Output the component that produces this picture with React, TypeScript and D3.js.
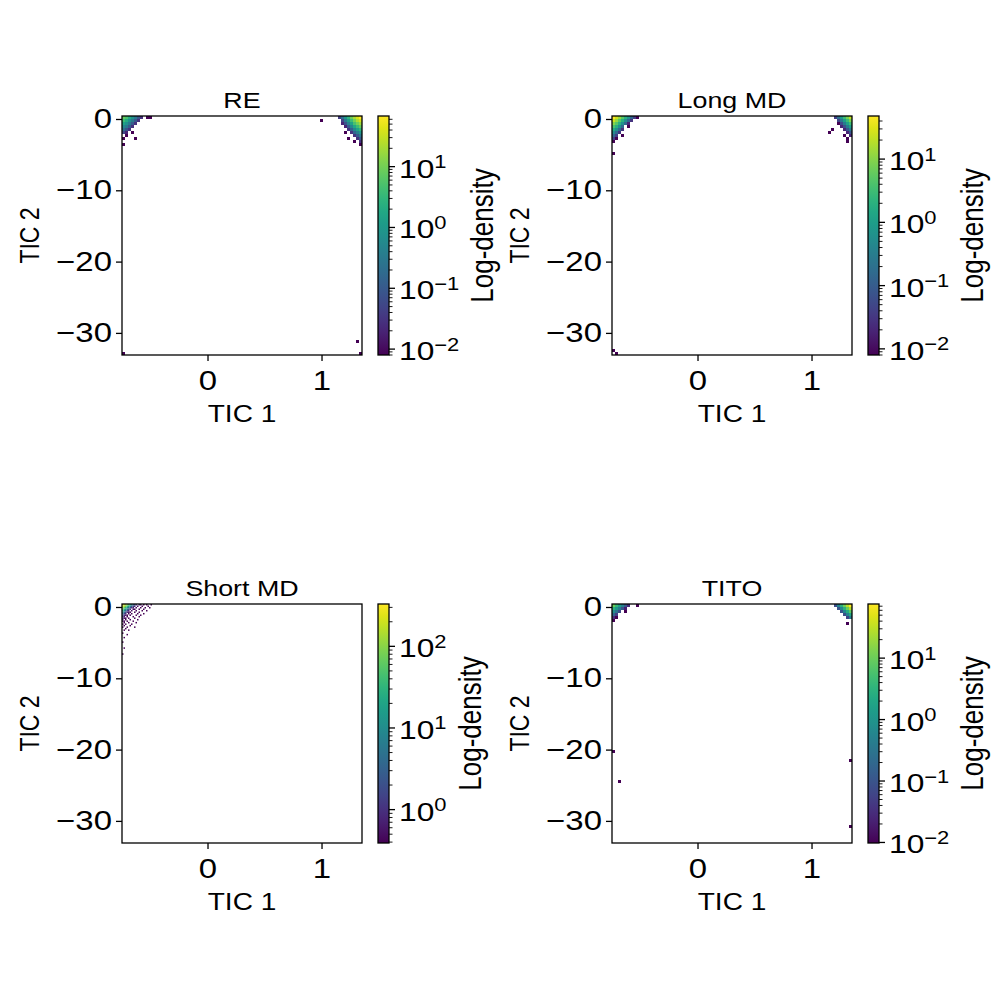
import React, { useEffect, useRef } from 'react';
import * as d3 from 'd3';

// axis ranges of every panel
const tic1Range = [-0.75, 1.355];
const tic2Range = [-33.1, 0.42];
const tic1Ticks = [0, 1];
const tic2Ticks = [0, -10, -20, -30];

// 2D histogram cells: [TIC 1 bin, TIC 2 bin (counted from the top), density]
const reCells = [
  [0, 0, 8], [1, 0, 5], [2, 0, 2], [3, 0, 0.8], [4, 0, 0.3], [5, 0, 0.08], [6, 0, 0.03], [8, 0, 0.008], [9, 0, 0.008],
  [0, 1, 4], [1, 1, 2], [2, 1, 0.8], [3, 1, 0.3], [4, 1, 0.1], [5, 1, 0.03],
  [0, 2, 1.5], [1, 2, 0.8], [2, 2, 0.3], [3, 2, 0.1], [4, 2, 0.03],
  [0, 3, 0.5], [1, 3, 0.3], [2, 3, 0.1], [3, 3, 0.03],
  [0, 4, 0.2], [1, 4, 0.08], [2, 4, 0.03],
  [0, 5, 0.06], [1, 5, 0.02], [3, 5, 0.008],
  [1, 6, 0.008], [0, 7, 0.008], [4, 7, 0.008], [0, 9, 0.008],
  [66, 1, 0.008],
  [72, 0, 0.04], [73, 0, 0.2], [74, 0, 0.9], [75, 0, 3], [76, 0, 9], [77, 0, 20], [78, 0, 40], [79, 0, 68],
  [73, 1, 0.05], [74, 1, 0.3], [75, 1, 1.2], [76, 1, 4], [77, 1, 10], [78, 1, 22], [79, 1, 38],
  [73, 2, 0.02], [74, 2, 0.08], [75, 2, 0.4], [76, 2, 1.5], [77, 2, 5], [78, 2, 10], [79, 2, 18],
  [74, 3, 0.02], [75, 3, 0.1], [76, 3, 0.5], [77, 3, 1.8], [78, 3, 4], [79, 3, 8],
  [75, 4, 0.03], [76, 4, 0.12], [77, 4, 0.5], [78, 4, 1.5], [79, 4, 3],
  [74, 5, 0.008], [76, 5, 0.03], [77, 5, 0.15], [78, 5, 0.4], [79, 5, 1],
  [77, 6, 0.03], [78, 6, 0.1], [79, 6, 0.3],
  [75, 7, 0.008], [78, 7, 0.03], [79, 7, 0.1],
  [77, 8, 0.008], [79, 8, 0.03], [79, 9, 0.008],
  [78, 75, 0.008], [79, 79, 0.008], [0, 79, 0.008],
];

const longMdCells = [
  [0, 0, 48], [1, 0, 25], [2, 0, 12], [3, 0, 5], [4, 0, 2], [5, 0, 0.6], [6, 0, 0.15], [7, 0, 0.04], [8, 0, 0.008],
  [0, 1, 25], [1, 1, 12], [2, 1, 5], [3, 1, 2], [4, 1, 0.6], [5, 1, 0.15], [6, 1, 0.03],
  [0, 2, 10], [1, 2, 5], [2, 2, 2], [3, 2, 0.6], [4, 2, 0.15], [5, 2, 0.02],
  [0, 3, 4], [1, 3, 2], [2, 3, 0.6], [3, 3, 0.15], [5, 3, 0.008],
  [0, 4, 1.5], [1, 4, 0.6], [2, 4, 0.15], [3, 4, 0.03],
  [0, 5, 0.5], [1, 5, 0.15], [2, 5, 0.03],
  [0, 6, 0.15], [1, 6, 0.04], [3, 6, 0.008],
  [0, 7, 0.04], [1, 7, 0.008], [0, 8, 0.008], [0, 12, 0.008],
  [0, 78, 0.008], [1, 79, 0.008],
  [74, 0, 0.04], [75, 0, 0.2], [76, 0, 0.8], [77, 0, 3], [78, 0, 8], [79, 0, 20],
  [75, 1, 0.05], [76, 1, 0.25], [77, 1, 1], [78, 1, 3], [79, 1, 8],
  [75, 2, 0.008], [76, 2, 0.06], [77, 2, 0.3], [78, 2, 1.2], [79, 2, 3],
  [76, 3, 0.02], [77, 3, 0.07], [78, 3, 0.3], [79, 3, 1],
  [73, 4, 0.008], [77, 4, 0.02], [78, 4, 0.08], [79, 4, 0.3],
  [72, 5, 0.008], [78, 5, 0.02], [79, 5, 0.08],
  [77, 6, 0.008], [79, 6, 0.02], [78, 7, 0.008], [78, 8, 0.008],
];

// this run was binned finer (160 bins per axis)
const shortMdCells = [
  [0, 0, 330], [1, 0, 220], [2, 0, 150], [3, 0, 90], [4, 0, 50], [5, 0, 25], [6, 0, 12], [7, 0, 5], [8, 0, 2.5], [9, 0, 1.2], [11, 0, 0.8], [12, 0, 0.5], [14, 0, 0.39], [16, 0, 0.39], [19, 0, 0.39],
  [0, 1, 200], [1, 1, 140], [2, 1, 80], [3, 1, 40], [4, 1, 18], [5, 1, 8], [6, 1, 3], [7, 1, 1.5], [8, 1, 0.8], [10, 1, 0.5], [13, 1, 0.39], [17, 1, 0.39],
  [0, 2, 110], [1, 2, 70], [2, 2, 35], [3, 2, 15], [4, 2, 6], [5, 2, 2.5], [6, 2, 1], [7, 2, 0.6], [9, 2, 0.5], [12, 2, 0.39], [15, 2, 0.39], [18, 2, 0.39],
  [0, 3, 60], [1, 3, 30], [2, 3, 12], [3, 3, 5], [4, 3, 2], [5, 3, 0.9], [7, 3, 0.5], [8, 3, 0.39], [11, 3, 0.39], [14, 3, 0.39],
  [0, 4, 25], [1, 4, 12], [2, 4, 5], [3, 4, 2], [4, 4, 0.8], [6, 4, 0.5], [9, 4, 0.39], [13, 4, 0.39], [16, 4, 0.39],
  [0, 5, 10], [1, 5, 5], [2, 5, 2], [3, 5, 0.8], [4, 5, 0.5], [5, 5, 0.39], [8, 5, 0.39], [11, 5, 0.39],
  [0, 6, 5], [1, 6, 2], [2, 6, 0.9], [4, 6, 0.39], [6, 6, 0.39], [10, 6, 0.39], [14, 6, 0.39],
  [0, 7, 2.5], [1, 7, 1], [2, 7, 0.5], [3, 7, 0.39], [5, 7, 0.39], [9, 7, 0.39], [12, 7, 0.39],
  [0, 8, 1.5], [1, 8, 0.6], [3, 8, 0.39], [7, 8, 0.39], [11, 8, 0.39],
  [0, 9, 1], [1, 9, 0.5], [2, 9, 0.39], [4, 9, 0.39], [8, 9, 0.39],
  [0, 10, 0.7], [2, 10, 0.39], [5, 10, 0.39], [10, 10, 0.39],
  [0, 11, 0.5], [1, 11, 0.39], [3, 11, 0.39], [7, 11, 0.39],
  [1, 12, 0.39], [4, 12, 0.39], [9, 12, 0.39],
  [0, 13, 0.39], [2, 13, 0.39], [6, 13, 0.39],
  [1, 14, 0.39], [5, 14, 0.39], [0, 15, 0.39], [3, 15, 0.39], [8, 15, 0.39],
  [2, 16, 0.39], [1, 17, 0.39], [4, 17, 0.39], [0, 19, 0.39], [3, 20, 0.39],
  [1, 22, 0.39], [0, 25, 0.39], [1, 29, 0.39], [0, 33, 0.39],
];

const titoCells = [
  [0, 0, 10], [1, 0, 4], [2, 0, 1.5], [3, 0, 0.5], [4, 0, 0.12], [5, 0, 0.03], [8, 0, 0.0098],
  [0, 1, 3], [1, 1, 1.2], [2, 1, 0.4], [3, 1, 0.1], [4, 1, 0.02],
  [0, 2, 0.8], [1, 2, 0.3], [2, 2, 0.08], [4, 2, 0.0098],
  [0, 3, 0.2], [1, 3, 0.05], [0, 4, 0.03], [1, 4, 0.0098], [0, 5, 0.0098],
  [0, 49, 0.0098], [2, 59, 0.0098], [79, 52, 0.0098], [79, 74, 0.0098],
  [74, 0, 0.08], [75, 0, 0.6], [76, 0, 3], [77, 0, 10], [78, 0, 30], [79, 0, 76],
  [75, 1, 0.1], [76, 1, 0.6], [77, 1, 3], [78, 1, 10], [79, 1, 28],
  [76, 2, 0.1], [77, 2, 0.6], [78, 2, 2.5], [79, 2, 8],
  [77, 3, 0.08], [78, 3, 0.5], [79, 3, 2],
  [78, 4, 0.06], [79, 4, 0.4], [78, 6, 0.0098],
];

const panels = [
  { title: 'RE', cells: reCells, bins: 80 },
  { title: 'Long MD', cells: longMdCells, bins: 80 },
  { title: 'Short MD', cells: shortMdCells, bins: 160 },
  { title: 'TITO', cells: titoCells, bins: 80 },
];

const W = 240;
const H = 239;
const SX = 1.22; // the figure text comes out wider than tall
const FONT = '"Liberation Sans", Arial, sans-serif';

const App = () => {
  const ref = useRef<SVGSVGElement>(null);

  useEffect(() => {
    const svg = d3.select(ref.current);
    svg.selectAll('*').remove();
    const defs = svg.append('defs');
    const fmt = (v: number) => (v < 0 ? '\u2212' + Math.abs(v) : String(v));

    const x = d3.scaleLinear().domain(tic1Range).range([0, W]);
    const y = d3.scaleLinear().domain(tic2Range).range([H, 0]);

    // put a text at (tx, ty) and widen it around that point
    const label = (sel, tx, ty, size, str, rot = 0) =>
      sel
        .append('text')
        .attr('transform', `translate(${tx},${ty}) scale(${SX},1)${rot ? ` rotate(${rot})` : ''}`)
        .attr('text-anchor', 'middle')
        .attr('font-size', size)
        .attr('font-family', FONT)
        .text(str);

    panels.forEach((p, i) => {
      const g = svg
        .append('g')
        .attr('transform', `translate(${122 + (i % 2) * 490},${116 + Math.floor(i / 2) * 488})`);

      // bin index -> TIC value
      const bx = d3.scaleLinear().domain([0, p.bins]).range(tic1Range);
      const by = d3.scaleLinear().domain([0, p.bins]).range([tic2Range[1], tic2Range[0]]);
      const ext = d3.extent(p.cells, (d) => d[2]) as [number, number];
      const color = d3.scaleSequentialLog(d3.interpolateViridis).domain(ext);

      g.append('g')
        .attr('shape-rendering', p.bins === 80 ? 'crispEdges' : 'auto')
        .selectAll('rect')
        .data(p.cells)
        .join('rect')
        .attr('x', (d) => x(bx(d[0])))
        .attr('y', (d) => y(by(d[1])))
        .attr('width', (d) => x(bx(d[0] + 1)) - x(bx(d[0])))
        .attr('height', (d) => y(by(d[1] + 1)) - y(by(d[1])))
        .attr('fill', (d) => color(d[2]));

      const ya = g.append('g').call(d3.axisLeft(y).tickValues(tic2Ticks).tickSize(6).tickPadding(4).tickFormat(fmt));
      const xa = g
        .append('g')
        .attr('transform', `translate(0,${H})`)
        .call(d3.axisBottom(x).tickValues(tic1Ticks).tickSize(6).tickPadding(10).tickFormat(fmt));
      [ya, xa].forEach((a) => {
        a.select('.domain').remove();
        a.selectAll('line').attr('stroke', '#000').attr('stroke-width', 1.3);
        a.selectAll('text')
          .attr('font-size', 27)
          .attr('font-family', FONT)
          .attr('fill', '#000')
          .each(function () {
            const t = d3.select(this);
            const tx = +t.attr('x') || 0;
            const ty = +t.attr('y') || 0;
            t.attr('x', 0).attr('y', 0).attr('transform', `translate(${tx},${ty}) scale(${SX},1)`);
          });
      });

      g.append('rect').attr('width', W).attr('height', H).attr('fill', 'none').attr('stroke', '#000').attr('stroke-width', 1.3);

      label(g, W / 2, -8, 22, p.title);
      label(g, W / 2, 306, 23, 'TIC 1');
      label(g, -83, H / 2, 23, 'TIC 2', -90);

      // colorbar
      const cx = 256;
      const cw = 11;
      const cb = d3.scaleLog().domain(ext).range([H, 0]);
      const grad = defs.append('linearGradient').attr('id', `cbar${i}`)
        .attr('x1', 0).attr('x2', 0).attr('y1', 1).attr('y2', 0);
      d3.range(0, 1.0001, 0.05).forEach((t) => {
        grad.append('stop').attr('offset', t).attr('stop-color', d3.interpolateViridis(t));
      });
      g.append('rect').attr('x', cx).attr('width', cw).attr('height', H).attr('fill', `url(#cbar${i})`);

      const ticks = cb.ticks().filter((v) => v >= ext[0] && v <= ext[1]);
      const isMajor = (v: number) => Math.abs(Math.log10(v) - Math.round(Math.log10(v))) < 1e-6;
      g.append('g').selectAll('line').data(ticks).join('line')
        .attr('x1', cx + cw).attr('x2', (d) => cx + cw + (isMajor(d) ? 6 : 3.5))
        .attr('y1', (d) => cb(d)).attr('y2', (d) => cb(d))
        .attr('stroke', '#000').attr('stroke-width', (d) => (isMajor(d) ? 1.3 : 0.9));
      g.append('rect').attr('x', cx).attr('width', cw).attr('height', H).attr('fill', 'none')
        .attr('stroke', '#000').attr('stroke-width', 1.3);

      const lg = g.append('g').attr('font-family', FONT);
      ticks.filter(isMajor).forEach((v) => {
        const e = Math.round(Math.log10(v));
        const t = lg.append('text')
          .attr('transform', `translate(${cx + cw + 10},${cb(v) + 11}) scale(${SX},1)`)
          .attr('font-size', 26);
        t.append('tspan').text('10');
        t.append('tspan').attr('font-size', 18).attr('dy', -9.5).text(fmt(e));
      });
      const lw = (lg.node() as SVGGElement).getBBox().width;
      label(g, cx + cw + 10 + lw + 34, H / 2, 26, 'Log-density', -90);
    });
  }, []);

  return <svg ref={ref} width={997} height={997} style={{ position: 'absolute', left: 0, top: 0, background: '#fff' }} />;
};

export default App;
